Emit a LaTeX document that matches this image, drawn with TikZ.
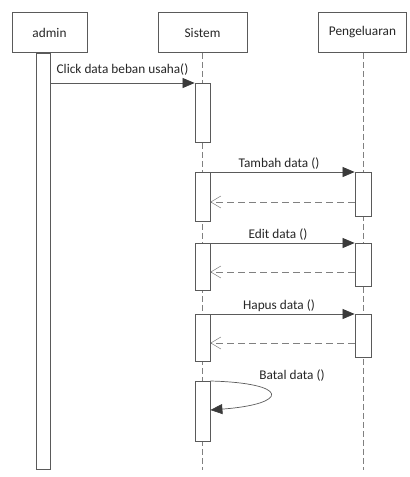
\documentclass[tikz,border=0pt]{standalone}
\usepackage{fontspec}
\setmainfont{Carlito}
\usetikzlibrary{arrows.meta}
\definecolor{edge}{HTML}{5A5A5A}
\definecolor{life}{HTML}{808080}
\definecolor{tip}{HTML}{3A3A3A}
\begin{document}
\begin{tikzpicture}[x=1pt,y=-1pt,
  every node/.style={font=\fontsize{13.3}{15}\selectfont, text=black!85},
  head/.style={draw=edge, line width=0.8pt, minimum height=40pt, inner sep=0pt},
  bar/.style={draw=edge, fill=white, line width=0.8pt, minimum width=15pt, inner sep=0pt, anchor=north},
  lifeline/.style={draw=life, line width=0.7pt, dash pattern=on 6pt off 3pt},
  msg/.style={draw=edge, line width=0.7pt, -{Triangle[length=12pt,width=10pt,fill=tip,color=tip]}},
  ret/.style={draw=life, line width=0.7pt, dash pattern=on 7pt off 4pt, -{Straight Barb[length=10pt,width=12pt,line width=0.5pt]}},
  lbl/.style={inner sep=0pt}
]
\useasboundingbox (0,0) rectangle (410,477);
% headers
\node[head, minimum width=75pt] (admin) at (49.5,32.5) {admin};
\node[head, minimum width=89pt] (sistem) at (202.5,32.5) {Sistem};
\node[head, minimum width=88pt] (peng) at (362.5,32.5) {Pengeluaran};
% lifeline ends
\coordinate (sEnd) at (202.5,470);
\coordinate (pEnd) at (363,470);
\draw[lifeline] (sistem.south) -- (sEnd);
\draw[lifeline] (peng.south -| pEnd) -- (pEnd);
% admin activation
\node[bar, minimum width=14pt, minimum height=416pt] (a) at (43.5,52.5) {};
% sistem bars
\node[bar, minimum height=59pt] (s1) at (202.5,83) {};
\node[bar, minimum height=49pt] (s2) at (202.5,172) {};
\node[bar, minimum height=47pt] (s3) at (202.5,243) {};
\node[bar, minimum height=47pt] (s4) at (202.5,314) {};
\node[bar, minimum height=60pt] (s5) at (202.5,381) {};
% pengeluaran bars
\node[bar, minimum width=16pt, minimum height=44pt] (p2) at (363,172) {};
\node[bar, minimum width=16pt, minimum height=43pt] (p3) at (363,243) {};
\node[bar, minimum width=16pt, minimum height=43pt] (p4) at (363,314) {};
% messages
\draw[msg] (a.east |- s1.north) -- (s1.north west);
\node[lbl] (l1) at (122.5,70) {Click data beban usaha()};
\draw[msg] (s2.north east) -- (p2.north west);
\node[lbl] (l2) at (279,163.5) {Tambah data ()};
\draw[msg] (s3.north east) -- (p3.north west);
\node[lbl] (l3) at (278,234.5) {Edit data ()};
\draw[msg] (s4.north east) -- (p4.north west);
\node[lbl] (l4) at (279,305.5) {Hapus data ()};
% returns
\coordinate (r2) at (0,202);
\coordinate (r3) at (0,272);
\coordinate (r4) at (0,343);
\draw[ret] (p2.west |- r2) -- (s2.east |- r2);
\draw[ret] (p3.west |- r3) -- (s3.east |- r3);
\draw[ret] (p4.west |- r4) -- (s4.east |- r4);
% self message
\coordinate (selfEnd) at (210,410);
\draw[msg] (s5.north east) .. controls (290,383) and (290,404) .. (s5.east |- selfEnd);
\node[lbl] (l5) at (292,376) {Batal data ()};
\end{tikzpicture}
\end{document}
